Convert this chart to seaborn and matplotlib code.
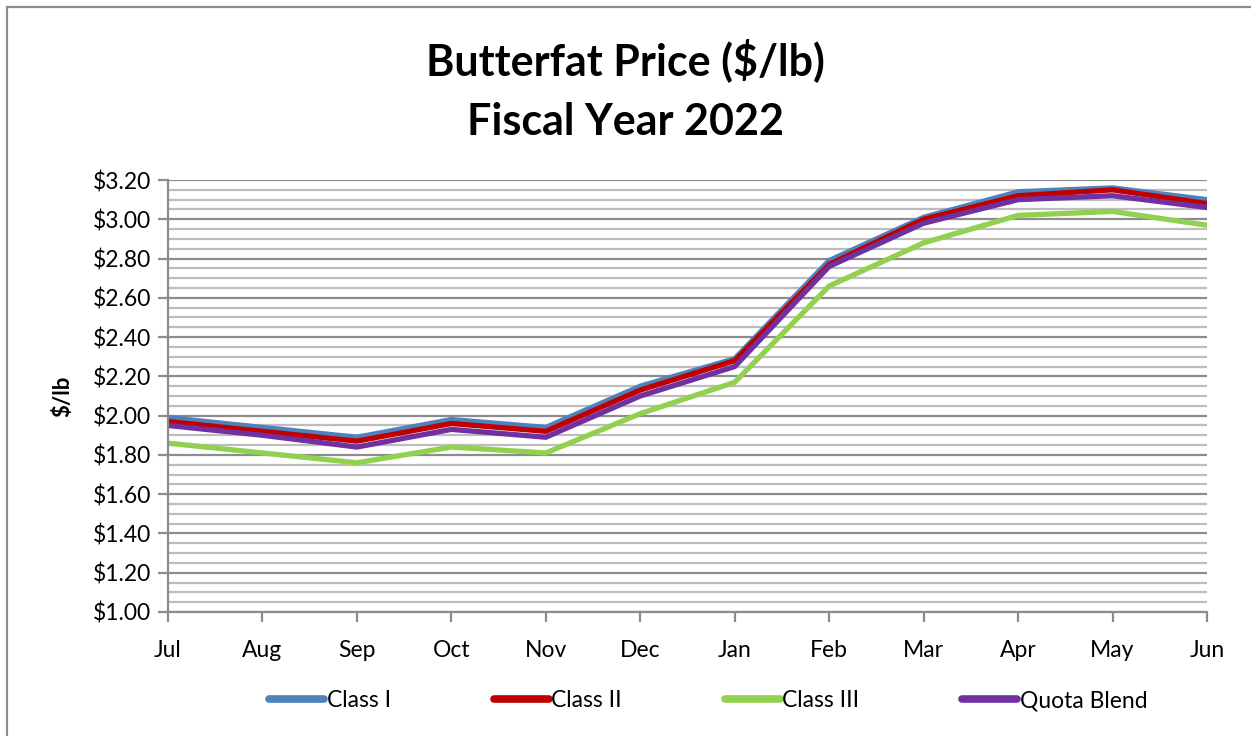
import matplotlib
matplotlib.use("Agg")
import matplotlib.pyplot as plt
import seaborn as sns
import pandas as pd
import numpy as np
from matplotlib.patches import Rectangle
from matplotlib.ticker import MultipleLocator, FuncFormatter

months = ["Jul", "Aug", "Sep", "Oct", "Nov", "Dec", "Jan", "Feb", "Mar", "Apr", "May", "Jun"]
class_i = [1.99, 1.94, 1.89, 1.98, 1.94, 2.15, 2.29, 2.79, 3.01, 3.14, 3.16, 3.10]
class_ii = [1.97, 1.92, 1.87, 1.96, 1.92, 2.13, 2.28, 2.77, 3.00, 3.12, 3.15, 3.08]
class_iii = [1.86, 1.81, 1.76, 1.84, 1.81, 2.01, 2.17, 2.66, 2.88, 3.02, 3.04, 2.97]
quota_blend = [1.95, 1.90, 1.84, 1.93, 1.89, 2.10, 2.25, 2.76, 2.98, 3.10, 3.12, 3.06]

series_names = ["Class I", "Class II", "Class III", "Quota Blend"]
series_vals = [class_i, class_ii, class_iii, quota_blend]
colors = ["#4F81BD", "#C00000", "#92D050", "#7030A0"]

rows = []
for name, vals in zip(series_names, series_vals):
    for i, (m, v) in enumerate(zip(months, vals)):
        rows.append({"Month": m, "idx": i, "Series": name, "Price": v})
df = pd.DataFrame(rows)

sns.set_theme(style="white")
plt.rcParams["font.family"] = ["Lato", "DejaVu Sans"]
plt.rcParams["text.color"] = "black"
plt.rcParams["axes.labelcolor"] = "black"

fig = plt.figure(figsize=(12.51, 7.36), dpi=100)
ax = fig.add_axes([0.1343, 0.1685, 0.8305, 0.5869])

sns.lineplot(data=df, x="idx", y="Price", hue="Series", hue_order=series_names,
             palette=colors, linewidth=3.8, ax=ax, legend=True, sort=False)

ax.set_xlim(0, len(months) - 1)
ax.set_ylim(1.0, 3.2)
ax.yaxis.set_major_locator(MultipleLocator(0.2))
ax.yaxis.set_minor_locator(MultipleLocator(0.05))
ax.yaxis.set_major_formatter(FuncFormatter(lambda v, p: f"${v:.2f}"))
ax.set_xticks(range(len(months)))
ax.set_xticklabels(months)

ax.grid(which="major", axis="y", color="#8c8c8c", linewidth=1.6, zorder=0)
ax.grid(which="minor", axis="y", color="#bdbdbd", linewidth=1.6, zorder=0)
ax.grid(axis="x", visible=False)
ax.set_axisbelow(True)

for s in ["top", "right"]:
    ax.spines[s].set_visible(False)
for s in ["left", "bottom"]:
    ax.spines[s].set_color("#8c8c8c")
    ax.spines[s].set_linewidth(1.6)

ax.tick_params(axis="y", which="major", direction="out", length=7, width=1.6,
               color="#8c8c8c", left=True, labelsize=16.5, pad=5, labelcolor="black")
ax.tick_params(axis="y", which="minor", length=0)
ax.tick_params(axis="x", direction="out", length=7, width=1.6, color="#8c8c8c",
               bottom=True, labelsize=16.5, pad=13, labelcolor="black")

ax.set_xlabel("")
ax.set_ylabel("$/lb", fontsize=16, fontweight="bold", labelpad=14, color="black")

fig.text(0.5, 0.948, "Butterfat Price ($/lb)\nFiscal Year 2022", fontsize=31,
         fontweight="bold", ha="center", va="top", linespacing=1.6, color="black")

handles, labels = ax.get_legend_handles_labels()
for h in handles:
    h.set_linewidth(5.5)
leg = ax.legend(handles, labels, loc="center", bbox_to_anchor=(0.52, -0.205), ncol=4,
                frameon=False, fontsize=16.5, handlelength=2.4, columnspacing=4.5,
                handletextpad=0.1)
for t in leg.get_texts():
    t.set_color("black")

fig.patches.append(Rectangle((0.0056, -0.1), 1.2, 1.0905, transform=fig.transFigure,
                             fill=False, edgecolor="#8c8c8c", linewidth=1.6))

fig.savefig("out.png", dpi=100)
